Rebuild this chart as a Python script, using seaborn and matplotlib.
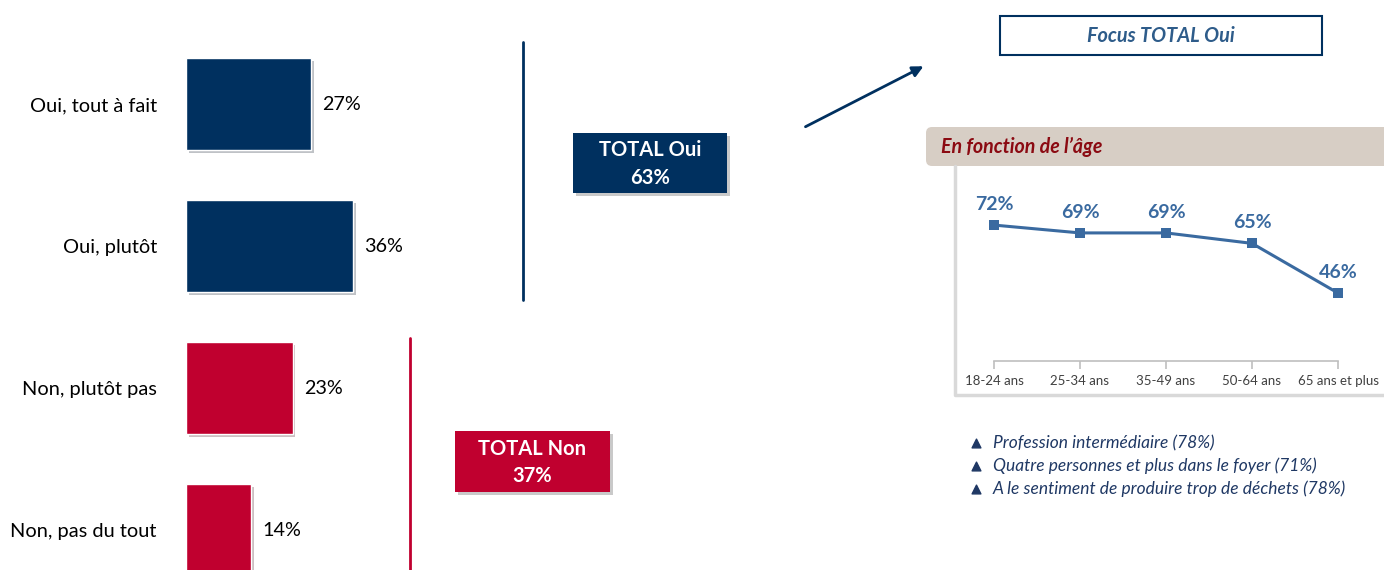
import matplotlib
matplotlib.use("Agg")
import matplotlib.pyplot as plt
import matplotlib.patches as mpatches
import matplotlib.patheffects as pe
import seaborn as sns

# Data
categories = ["Oui, tout à fait", "Oui, plutôt", "Non, plutôt pas", "Non, pas du tout"]
values = [27, 36, 23, 14]
total_oui = 63
total_non = 37

age_groups = ["18-24 ans", "25-34 ans", "35-49 ans", "50-64 ans", "65 ans et plus"]
age_values = [72, 69, 69, 65, 46]

bullets = [
    "Profession intermédiaire (78%)",
    "Quatre personnes et plus dans le foyer (71%)",
    "A le sentiment de produire trop de déchets (78%)",
]

NAVY = "#00305F"
RED = "#C0002F"
LINE_BLUE = "#3A6AA0"

sns.set_theme(style="white")
plt.rcParams["font.family"] = ["Lato", "DejaVu Sans"]

W, H = 1384, 570
fig = plt.figure(figsize=(W / 100, H / 100), dpi=100)

# background axes in pixel coordinates for decorations
bg = fig.add_axes([0, 0, 1, 1])
bg.set_xlim(0, W)
bg.set_ylim(H, 0)
bg.axis("off")
bg.set_zorder(5)

# --- left bar chart ---
ax = fig.add_axes([186 / W, 0, 464 / W, (H - 33) / H])
sns.barplot(x=values, y=categories, hue=categories,
            palette=[NAVY, NAVY, RED, RED], width=0.65, saturation=1,
            legend=False, orient="h", ax=ax)
for bar in ax.patches:
    bar.set_path_effects([pe.SimplePatchShadow(offset=(2, -2), alpha=0.25), pe.Normal()])
ax.patch.set_visible(False)
ax.set_xlim(0, 100)
ax.set_ylim(-0.5 + (H - 33) / 142, -0.5)
ax.set_xlabel("")
ax.set_ylabel("")
ax.set_xticks([])
ax.tick_params(axis="y", length=0, pad=21, labelsize=14.4, labelcolor="black")
sns.despine(ax=ax, left=True, bottom=True)
for i, v in enumerate(values):
    ax.text(v + 2.4, i, f"{v}%", va="center", ha="left", fontsize=14.2, color="black")

# vertical separators
bg.plot([523, 523], [42, 300], color=NAVY, lw=2)
bg.plot([410, 410], [338, 570], color=RED, lw=2)

# total boxes
for (x0, y0, w, h, col, txt) in [
    (573, 133, 154, 60, NAVY, f"TOTAL Oui\n{total_oui}%"),
    (455, 431, 155, 61, RED, f"TOTAL Non\n{total_non}%"),
]:
    shadow = mpatches.Rectangle((x0 + 3, y0 + 3), w, h, color="#888888", alpha=0.45, lw=0)
    bg.add_patch(shadow)
    bg.add_patch(mpatches.Rectangle((x0, y0), w, h, color=col, lw=0))
    bg.text(x0 + w / 2, y0 + h / 2 + 1, txt, ha="center", va="center", color="white",
            fontsize=14.5, fontweight="bold", linespacing=1.45)

# arrow
bg.annotate("", xy=(926, 65), xytext=(803, 128),
            arrowprops=dict(arrowstyle="-|>", color=NAVY, lw=2, mutation_scale=16))

# focus box
bg.add_patch(mpatches.Rectangle((1000, 16), 322, 39, facecolor="white",
                                edgecolor=NAVY, lw=1.5))
bg.text(1161, 36, "Focus TOTAL Oui", ha="center", va="center", color="#2E5C8A",
        fontsize=14.3, fontweight="bold", style="italic")

# header
bg.add_patch(mpatches.FancyBboxPatch((926, 127), 470, 39,
                                     boxstyle="round,pad=0,rounding_size=6",
                                     facecolor="#D7CEC5", edgecolor="none"))
bg.text(941, 147, "En fonction de l\u2019âge", ha="left", va="center", color="#8B0A12",
        fontsize=14.1, fontweight="bold", style="italic")

# chart frame
bg.plot([955, 955, W], [166, 395, 395], color="#D9D9D9", lw=2.5)

# --- line chart ---
lax = fig.add_axes([951 / W, (H - 361) / H, 430 / W, 195 / H])
lax.set_zorder(6)
sns.lineplot(x=age_groups, y=age_values, sort=False, color=LINE_BLUE, lw=2.2,
             marker="s", markersize=7, markeredgewidth=0, ax=lax)
lax.set_xlim(-0.5, 4.5)
lax.set_ylim(20, 94.6)
lax.set_xlabel("")
lax.set_ylabel("")
lax.set_yticks([])
for s in ["top", "right", "left"]:
    lax.spines[s].set_visible(False)
lax.spines["bottom"].set_color("#BFBFBF")
lax.spines["bottom"].set_linewidth(1.2)
lax.spines["bottom"].set_bounds(0, 4)
lax.tick_params(axis="x", bottom=True, length=6, width=1.2, color="#BFBFBF",
                labelsize=9.5, labelcolor="#404040", pad=4)
lax.patch.set_alpha(0)
for i, v in enumerate(age_values):
    lax.annotate(f"{v}%", (i, v), xytext=(0, 15), textcoords="offset points",
                 ha="center", va="center", fontsize=14, fontweight="bold", color=LINE_BLUE)

# bullets
for j, t in enumerate(bullets):
    y = 443 + j * 23
    bg.scatter([976], [y], marker="^", s=40, color="#1F3864")
    bg.text(993, y, t, ha="left", va="center", fontsize=12.5, style="italic", color="#1F3864")

fig.savefig("out.png", dpi=100)
